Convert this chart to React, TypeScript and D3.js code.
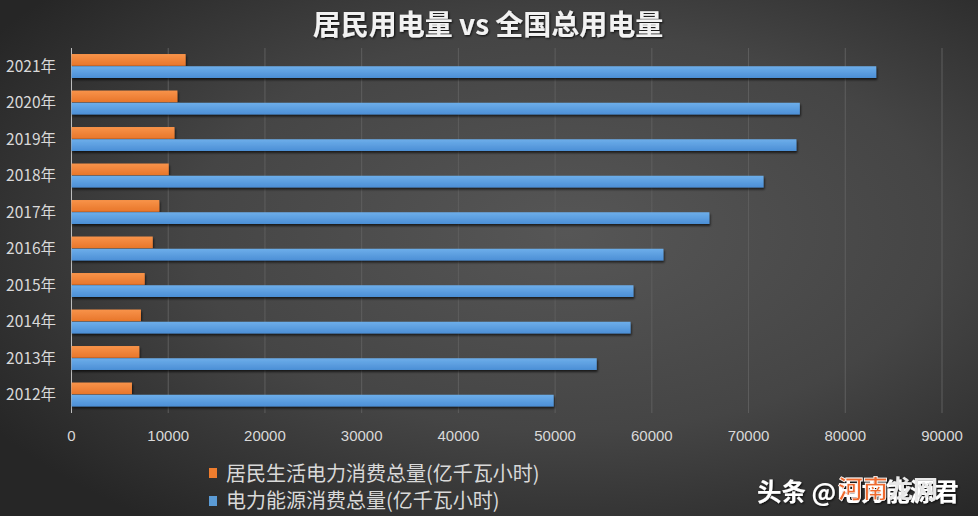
import React from "react";
import * as d3 from "d3";

const years = ["2021年", "2020年", "2019年", "2018年", "2017年", "2016年", "2015年", "2014年", "2013年", "2012年"];
const residential = [11800, 10950, 10650, 10050, 9080, 8400, 7570, 7180, 7010, 6250];
const total = [83200, 75300, 74950, 71550, 65950, 61200, 58100, 57800, 54300, 49850];
const xTicks = [0, 10000, 20000, 30000, 40000, 50000, 60000, 70000, 80000, 90000];
const seriesNames = ["居民生活电力消费总量(亿千瓦小时)", "电力能源消费总量(亿千瓦小时)"];
const title = "居民用电量 vs 全国总用电量";

const W = 978, H = 516;
const CJK = "'Noto Sans CJK SC', 'Noto Sans', sans-serif";
const NUM = "'Liberation Sans Narrow', 'Liberation Sans', 'DejaVu Sans Condensed', sans-serif";

export default function App() {
  const x = d3.scaleLinear().domain([0, 90000]).range([71.5, 942]);
  const y0 = d3.scaleBand<string>().domain(years).range([48, 413]).paddingInner(0.33).paddingOuter(0.165);
  const y1 = d3.scaleBand<string>().domain(["res", "tot"]).range([0, y0.bandwidth()]);
  const colors = { res: "url(#gOrange)", tot: "url(#gBlue)" };

  return (
    <svg width={W} height={H} style={{ position: "absolute", left: 0, top: 0 }}>
      <defs>
        <radialGradient id="bg" cx="58%" cy="45%" r="70%">
          <stop offset="0%" stopColor="#565656" />
          <stop offset="55%" stopColor="#454545" />
          <stop offset="100%" stopColor="#262626" />
        </radialGradient>
        <linearGradient id="gOrange" x1="0" y1="0" x2="0" y2="1">
          <stop offset="0%" stopColor="#F8934A" />
          <stop offset="100%" stopColor="#E8762A" />
        </linearGradient>
        <linearGradient id="gBlue" x1="0" y1="0" x2="0" y2="1">
          <stop offset="0%" stopColor="#6DAEEA" />
          <stop offset="100%" stopColor="#4C8FD6" />
        </linearGradient>
        <filter id="shadow" x="-5%" y="-50%" width="110%" height="200%">
          <feDropShadow dx="1" dy="2" stdDeviation="1.2" floodColor="#000" floodOpacity="0.65" />
        </filter>
        <filter id="tshadow" x="-10%" y="-30%" width="120%" height="160%">
          <feDropShadow dx="1" dy="1" stdDeviation="1" floodColor="#000" floodOpacity="0.8" />
        </filter>
      </defs>
      <rect x={0} y={0} width={W} height={H} fill="url(#bg)" />
      <text x={488} y={35} textAnchor="middle" fill="#f2f2f2" fontFamily={CJK} fontWeight="bold" fontSize={28} filter="url(#tshadow)">{title}</text>

      {xTicks.slice(1).map(t => (
        <line key={t} x1={x(t)} x2={x(t)} y1={48} y2={413} stroke="#5e5e5e" strokeWidth={1} />
      ))}
      <line x1={x(0)} x2={x(0)} y1={48} y2={413} stroke="#bdbdbd" strokeWidth={1} />

      {years.map((yr, i) => (
        <g key={yr} filter="url(#shadow)">
          <rect x={x(0)} y={(y0(yr) as number) + (y1("res") as number)} width={x(residential[i]) - x(0)} height={y1.bandwidth() - 0.5} fill={colors.res} />
          <rect x={x(0)} y={(y0(yr) as number) + (y1("tot") as number)} width={x(total[i]) - x(0)} height={y1.bandwidth() - 0.5} fill={colors.tot} />
        </g>
      ))}

      {years.map(yr => (
        <text key={yr} x={56} y={(y0(yr) as number) + y0.bandwidth() / 2} dy="0.36em" textAnchor="end" fill="#d9d9d9" fontFamily={CJK} fontSize={15.5}>{yr}</text>
      ))}
      {xTicks.map(t => (
        <text key={t} x={x(t)} y={441} textAnchor="middle" fill="#d9d9d9" fontFamily={NUM} fontSize={15}>{t}</text>
      ))}

      <rect x={209} y={468} width={8} height={10} fill="#EF7D2E" />
      <text x={226} y={474} dy="0.36em" fill="#d9d9d9" fontFamily={CJK} fontSize={20}>{seriesNames[0]}</text>
      <rect x={209} y={496} width={8} height={10} fill="#5B9BD5" />
      <text x={226} y={501} dy="0.36em" fill="#d9d9d9" fontFamily={CJK} fontSize={20}>{seriesNames[1]}</text>

      <g filter="url(#tshadow)">
        <text x={757} y={492} dy="0.36em" fill="#ffffff" fontFamily={CJK} fontWeight="bold" fontSize={24.5}>头条 @电力能源君</text>
        <text x={838} y={489} dy="0.36em" fill="#EF6A2E" stroke="#ffffff" strokeWidth={0.8} fontFamily={CJK} fontWeight="bold" fontSize={25}>河南</text>
        <text x={888} y={489} dy="0.36em" fill="#e8e8e8" fontFamily={CJK} fontWeight="bold" fontSize={25}>龙网</text>
      </g>
    </svg>
  );
}
